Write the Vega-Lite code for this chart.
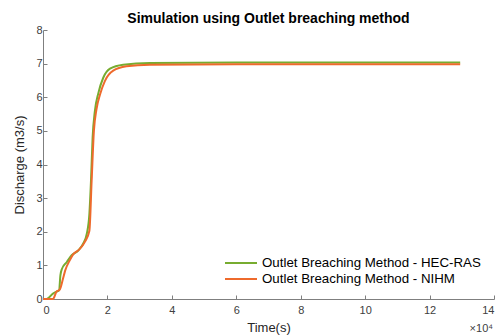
{
  "$schema": "https://vega.github.io/schema/vega-lite/v6.json",
  "autosize": {"type": "none"},
  "padding": {"left": 43, "top": 30, "right": 6, "bottom": 37},
  "width": 451,
  "height": 269,
  "background": "white",
  "config": {
    "view": {"stroke": null},
    "font": "Liberation Sans"
  },
  "title": {
    "text": "Simulation using Outlet breaching method",
    "fontSize": 14,
    "fontWeight": "bold",
    "font": "Liberation Sans",
    "color": "#000000",
    "anchor": "middle",
    "offset": -2
  },
  "datasets": {
    "flow": [
      {"series": "Outlet Breaching Method - HEC-RAS", "t": 0, "q": 0},
      {"series": "Outlet Breaching Method - HEC-RAS", "t": 1100, "q": 0},
      {"series": "Outlet Breaching Method - HEC-RAS", "t": 3200, "q": 0.17},
      {"series": "Outlet Breaching Method - HEC-RAS", "t": 4200, "q": 0.22},
      {"series": "Outlet Breaching Method - HEC-RAS", "t": 5000, "q": 0.26},
      {"series": "Outlet Breaching Method - HEC-RAS", "t": 5400, "q": 0.7},
      {"series": "Outlet Breaching Method - HEC-RAS", "t": 5900, "q": 0.9},
      {"series": "Outlet Breaching Method - HEC-RAS", "t": 7400, "q": 1.1},
      {"series": "Outlet Breaching Method - HEC-RAS", "t": 8900, "q": 1.3},
      {"series": "Outlet Breaching Method - HEC-RAS", "t": 11000, "q": 1.45},
      {"series": "Outlet Breaching Method - HEC-RAS", "t": 12500, "q": 1.65},
      {"series": "Outlet Breaching Method - HEC-RAS", "t": 13600, "q": 1.94},
      {"series": "Outlet Breaching Method - HEC-RAS", "t": 14400, "q": 2.53},
      {"series": "Outlet Breaching Method - HEC-RAS", "t": 14900, "q": 3.52},
      {"series": "Outlet Breaching Method - HEC-RAS", "t": 15400, "q": 4.8},
      {"series": "Outlet Breaching Method - HEC-RAS", "t": 16100, "q": 5.59},
      {"series": "Outlet Breaching Method - HEC-RAS", "t": 17200, "q": 6.13},
      {"series": "Outlet Breaching Method - HEC-RAS", "t": 18700, "q": 6.58},
      {"series": "Outlet Breaching Method - HEC-RAS", "t": 20800, "q": 6.85},
      {"series": "Outlet Breaching Method - HEC-RAS", "t": 24900, "q": 6.97},
      {"series": "Outlet Breaching Method - HEC-RAS", "t": 33200, "q": 7.02},
      {"series": "Outlet Breaching Method - HEC-RAS", "t": 60000, "q": 7.03},
      {"series": "Outlet Breaching Method - HEC-RAS", "t": 129500, "q": 7.03},
      {"series": "Outlet Breaching Method - NIHM", "t": 0, "q": 0},
      {"series": "Outlet Breaching Method - NIHM", "t": 3100, "q": 0},
      {"series": "Outlet Breaching Method - NIHM", "t": 4200, "q": 0.22},
      {"series": "Outlet Breaching Method - NIHM", "t": 5200, "q": 0.28},
      {"series": "Outlet Breaching Method - NIHM", "t": 6200, "q": 0.6},
      {"series": "Outlet Breaching Method - NIHM", "t": 6900, "q": 0.85},
      {"series": "Outlet Breaching Method - NIHM", "t": 8300, "q": 1.15},
      {"series": "Outlet Breaching Method - NIHM", "t": 9300, "q": 1.32},
      {"series": "Outlet Breaching Method - NIHM", "t": 11200, "q": 1.47},
      {"series": "Outlet Breaching Method - NIHM", "t": 13000, "q": 1.7},
      {"series": "Outlet Breaching Method - NIHM", "t": 14400, "q": 2.03},
      {"series": "Outlet Breaching Method - NIHM", "t": 15100, "q": 3.52},
      {"series": "Outlet Breaching Method - NIHM", "t": 15800, "q": 5.0},
      {"series": "Outlet Breaching Method - NIHM", "t": 16600, "q": 5.64},
      {"series": "Outlet Breaching Method - NIHM", "t": 17700, "q": 6.08},
      {"series": "Outlet Breaching Method - NIHM", "t": 19200, "q": 6.48},
      {"series": "Outlet Breaching Method - NIHM", "t": 21800, "q": 6.79},
      {"series": "Outlet Breaching Method - NIHM", "t": 25900, "q": 6.92},
      {"series": "Outlet Breaching Method - NIHM", "t": 33200, "q": 6.97},
      {"series": "Outlet Breaching Method - NIHM", "t": 60000, "q": 6.98},
      {"series": "Outlet Breaching Method - NIHM", "t": 129500, "q": 6.98}
    ],
    "note": [
      {"t": 140000, "q": 0, "label": "×10⁴"}
    ]
  },
  "encoding": {
    "x": {
      "field": "t",
      "type": "quantitative",
      "scale": {"domain": [0, 140000], "nice": false, "zero": false},
      "axis": {
        "title": "Time(s)",
        "values": [0, 20000, 40000, 60000, 80000, 100000, 120000, 140000],
        "labelExpr": "datum.value / 10000",
        "labelOverlap": false,
        "grid": false,
        "domainColor": "#7f7f7f",
        "tickColor": "#7f7f7f",
        "tickSize": -4,
        "labelPadding": 9,
        "labelFontSize": 11,
        "labelColor": "#404040",
        "labelFont": "Liberation Sans",
        "titleFont": "Liberation Sans",
        "titleFontSize": 13,
        "titleFontWeight": "normal",
        "titleColor": "#262626",
        "titlePadding": 6
      }
    },
    "y": {
      "field": "q",
      "type": "quantitative",
      "scale": {"domain": [0, 8], "nice": false},
      "axis": {
        "title": "Discharge (m3/s)",
        "values": [0, 1, 2, 3, 4, 5, 6, 7, 8],
        "labelOverlap": false,
        "grid": false,
        "domainColor": "#7f7f7f",
        "tickColor": "#7f7f7f",
        "tickSize": -4,
        "labelPadding": 5,
        "labelFontSize": 11,
        "labelColor": "#404040",
        "labelFont": "Liberation Sans",
        "titleFont": "Liberation Sans",
        "titleFontSize": 13,
        "titleFontWeight": "normal",
        "titleColor": "#262626",
        "titlePadding": 9
      }
    }
  },
  "layer": [
    {
      "data": {"name": "flow"},
      "mark": {"type": "line", "strokeWidth": 2, "interpolate": "monotone"},
      "encoding": {
        "color": {
          "field": "series",
          "type": "nominal",
          "scale": {
            "domain": ["Outlet Breaching Method - HEC-RAS", "Outlet Breaching Method - NIHM"],
            "range": ["#77AC30", "#EE6A2C"]
          },
          "legend": {
            "title": null,
            "orient": "bottom-right",
            "offset": 11,
            "symbolType": "M-2,0H2",
            "symbolSize": 256,
            "symbolStrokeWidth": 2,
            "labelFontSize": 13.3,
            "labelFont": "Liberation Sans",
            "labelColor": "#000000",
            "labelLimit": 400,
            "rowPadding": 0,
            "symbolOffset": 0,
            "labelOffset": 12,
            "padding": 2
          }
        }
      }
    },
    {
      "data": {"name": "note"},
      "mark": {"type": "text", "align": "right", "baseline": "middle", "dy": 30, "dx": -1, "fontSize": 11, "font": "Liberation Sans", "color": "#404040"},
      "encoding": {
        "text": {"field": "label"}
      }
    }
  ]
}
